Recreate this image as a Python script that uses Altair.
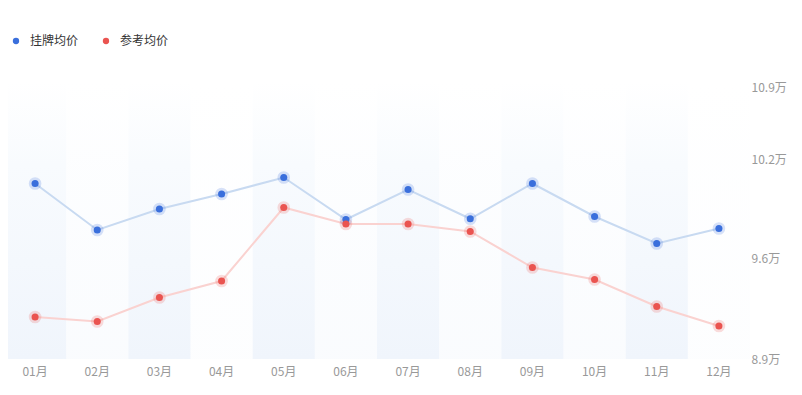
import altair as alt
import pandas as pd

months = ["01月", "02月", "03月", "04月", "05月", "06月", "07月", "08月", "09月", "10月", "11月", "12月"]
listing_avg = [10.07, 9.76, 9.90, 10.00, 10.11, 9.83, 10.03, 9.835, 10.07, 9.85, 9.67, 9.77]
reference_avg = [9.18, 9.15, 9.31, 9.42, 9.91, 9.80, 9.80, 9.75, 9.51, 9.43, 9.25, 9.12]
series_names = ["挂牌均价", "参考均价"]
band_strength = [1, 0.35, 1, 0.15, 1, 0.35, 1, 0.35, 1, 0.35, 1, 0.15]
axis_min, axis_max = 8.9, 10.9
band_top = 10.75
y_ticks = [8.9, 9.5667, 10.2333, 10.9]

rows = []
for m, v in zip(months, listing_avg):
    rows.append({"month": m, "series": series_names[0], "value": v})
for m, v in zip(months, reference_avg):
    rows.append({"month": m, "series": series_names[1], "value": v})
df = pd.DataFrame(rows)

bands = pd.DataFrame({"month": months, "strength": band_strength,
                      "lo": [axis_min] * len(months), "hi": [band_top] * len(months)})

FONT = "Noto Sans CJK SC"
dot_colors = ["#3a6fdc", "#ea5450"]
line_colors = ["#c8daf1", "#fad2d0"]

x_axis = alt.Axis(title=None, domain=False, ticks=False, grid=False, labelAngle=0,
                  labelPadding=7, labelColor="#999999", labelFontSize=12, labelFont=FONT)
x_enc = alt.X("month:N", sort=months,
              scale=alt.Scale(paddingInner=0, paddingOuter=0, range=[-4, 742]),
              axis=x_axis)
y_scale = alt.Scale(domain=[axis_min, axis_max], zero=False, nice=False)
y_axis = alt.Axis(title=None, orient="right", domain=False, ticks=False, grid=False,
                  values=y_ticks, labelExpr="format(datum.value, '.1f') + '万'",
                  labelAlign="left", labelPadding=1, labelColor="#999999",
                  labelFontSize=12, labelFont=FONT,
                  labelOffset={"condition": {"test": "datum.value > 10.8", "value": 28}, "value": 0})

legend = alt.Legend(title=None, orient="none", legendX=2, legendY=-24, padding=0,
                    direction="horizontal", symbolType="circle",
                    symbolSize=40, symbolOpacity=1, symbolStrokeWidth=0,
                    labelFontSize=12, labelColor="#333333", labelFont=FONT,
                    labelOffset=8, columnPadding=21)
fill_scale = alt.Scale(domain=series_names, range=dot_colors)

band_layer = alt.Chart(bands).mark_bar(
    color=alt.Gradient(gradient="linear",
                       stops=[alt.GradientStop(color="#ffffff", offset=0),
                              alt.GradientStop(color="#f8fbfe", offset=0.3),
                              alt.GradientStop(color="#f0f5fc", offset=1)],
                       x1=0, x2=0, y1=0, y2=1)
).encode(
    x=x_enc,
    y=alt.Y("hi:Q", scale=y_scale, axis=y_axis),
    y2="lo:Q",
    opacity=alt.Opacity("strength:Q", scale=alt.Scale(domain=[0, 1], range=[0, 1]), legend=None),
)

line_layer = alt.Chart(df).mark_line(strokeWidth=2).encode(
    x=alt.X("month:N", sort=months, axis=x_axis),
    y=alt.Y("value:Q", scale=y_scale, axis=y_axis),
    stroke=alt.Stroke("series:N", sort=series_names, scale=alt.Scale(range=line_colors), legend=None),
)

halo_layer = alt.Chart(df).mark_circle(size=160, opacity=0.2).encode(
    x=alt.X("month:N", sort=months, axis=x_axis),
    y=alt.Y("value:Q", scale=y_scale, axis=y_axis),
    fill=alt.Fill("series:N", scale=fill_scale, legend=legend),
)

dot_layer = alt.Chart(df).mark_circle(size=50, opacity=1).encode(
    x=alt.X("month:N", sort=months, axis=x_axis),
    y=alt.Y("value:Q", scale=y_scale, axis=y_axis),
    fill=alt.Fill("series:N", scale=fill_scale, legend=legend),
)

chart = alt.layer(band_layer, line_layer, halo_layer, dot_layer).properties(
    width=742, height=300,
    background="#ffffff",
    autosize=alt.AutoSizeParams(type="none"),
    padding={"left": 0, "top": 51, "right": 44, "bottom": 28},
).configure_view(stroke=None).configure_axis(
    domain=False, ticks=False, grid=False
)

chart.save("out.html", embed_options={"renderer": "svg", "actions": False})
